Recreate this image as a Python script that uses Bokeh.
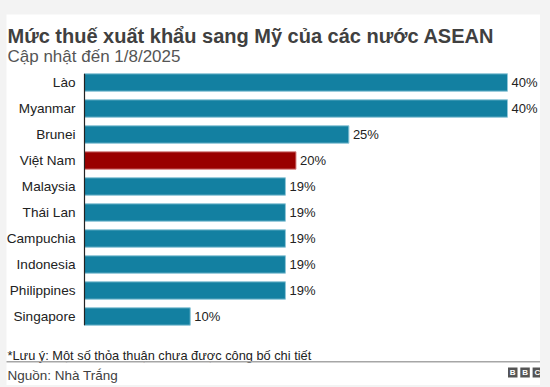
from bokeh.plotting import figure
from bokeh.models import Range1d, Label, BoxAnnotation, ColumnDataSource
from bokeh.core.properties import value
from bokeh.embed import file_html
from bokeh.resources import INLINE

countries = ["Lào", "Myanmar", "Brunei", "Việt Nam", "Malaysia", "Thái Lan",
             "Campuchia", "Indonesia", "Philippines", "Singapore"]
tariffs = [40, 40, 25, 20, 19, 19, 19, 19, 19, 10]
highlight = "Việt Nam"
title_text = "Mức thuế xuất khẩu sang Mỹ của các nước ASEAN"
subtitle_text = "Cập nhật đến 1/8/2025"
note_text = "*Lưu ý: Một số thỏa thuận chưa được công bố chi tiết"
source_text = "Nguồn: Nhà Trắng"

FONT = "Liberation Sans"
BLUE = "#1380A1"
RED = "#990000"
W, H = 534, 371          # figure size
OX, OY = 6, 14           # figure offset on the page (css padding)
AXIS_X = 78              # px of the value axis inside the figure
PX_PER_PCT = 10.575
ROW = 26                 # px per category row
FIRST_ROW_Y = 68         # px of first row centre inside figure
BAR_H = 0.67

colors = [RED if c == highlight else BLUE for c in countries]
edges = ["#d98c8c" if c == highlight else "#8fc6d8" for c in countries]
labels = [f"{v}%" for v in tariffs]
rows = list(range(len(countries)))

src = ColumnDataSource(dict(row=rows, country=countries, tariff=tariffs,
                            color=colors, edge=edges, label=labels))

p = figure(width=W, height=H, output_backend="svg", toolbar_location=None,
           x_range=Range1d(-AXIS_X / PX_PER_PCT, (W - AXIS_X) / PX_PER_PCT),
           y_range=Range1d((H - FIRST_ROW_Y) / ROW, -FIRST_ROW_Y / ROW),
           min_border=0)
p.outline_line_color = None
p.grid.visible = False
p.axis.visible = False
p.background_fill_color = "white"
p.border_fill_color = "white"

p.hbar(y="row", right="tariff", left=0, height=BAR_H, source=src,
       fill_color="color", line_color="edge", line_width=1)
p.segment(x0=[0], x1=[0], y0=[-BAR_H / 2], y1=[len(countries) - 1 + BAR_H / 2],
          line_color="#222222", line_width=1.2)
p.text(x="tariff", y="row", text="label", source=src, x_offset=4,
       text_baseline="middle", text_align="left",
       text_font=value(FONT), text_font_size="13px", text_color="#222222")
p.text(x=0, y="row", text="country", source=src, x_offset=-9,
       text_baseline="middle", text_align="right",
       text_font=value(FONT), text_font_size="13.6px", text_color="#222222")

def SX(x):
    return x - OX

def SY(y):
    return H - (y - OY)

def lab(txt, x, y, size, color, style="normal"):
    p.add_layout(Label(x=SX(x), y=SY(y), x_units="screen", y_units="screen",
                       text=txt, text_font=FONT, text_font_size=size,
                       text_color=color, text_font_style=style,
                       text_baseline="alphabetic"))

lab(title_text, 7, 35, "20px", "#404040", "bold")
lab(subtitle_text, 7, 55.5, "17px", "#555555")
lab(note_text, 7, 354.5, "12.8px", "#222222")
lab(source_text, 7, 375, "13.5px", "#404040")

p.add_layout(BoxAnnotation(left=SX(0), right=SX(550), top=SY(360.5), bottom=SY(362),
                           left_units="screen", right_units="screen",
                           top_units="screen", bottom_units="screen",
                           fill_color="#a6a6a6", fill_alpha=1, line_color=None))

for i, ch in enumerate("BBC"):
    x0 = 507.5 + i * 12.3
    p.add_layout(BoxAnnotation(left=SX(x0), right=SX(x0 + 9.5), top=SY(367), bottom=SY(377),
                               left_units="screen", right_units="screen",
                               top_units="screen", bottom_units="screen",
                               fill_color="#555555", fill_alpha=1, line_color=None))
    p.add_layout(Label(x=SX(x0 + 4.75), y=SY(372), x_units="screen", y_units="screen",
                       text=ch, text_font=FONT, text_font_size="8px",
                       text_font_style="bold", text_color="white",
                       text_align="center", text_baseline="middle"))

html = file_html(p, INLINE)
html = html.replace("</head>",
                    "<style>html, body {background:#f3f3f3 !important;}"
                    " body {padding:14px 0 0 6px !important;}</style></head>", 1)
open("out.html", "w").write(html)
